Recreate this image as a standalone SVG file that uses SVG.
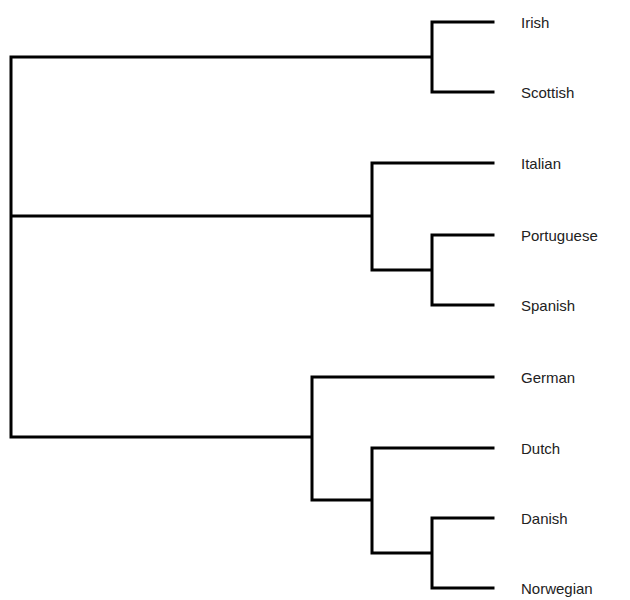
<svg xmlns="http://www.w3.org/2000/svg" width="630" height="600" viewBox="0 0 630 600">
<style>
.c{fill:none;stroke:#000;stroke-width:3;stroke-linecap:square;stroke-linejoin:miter}
.t{font-family:"Liberation Sans",Arial,sans-serif;font-size:15px;fill:#222}
</style>
<rect width="630" height="600" fill="#fff"/>
<g id="connectors">
<path class="c" d="M493,22 H432 V92 H493 M432,57 H11 V437 M11,216 H372 V163 H493 M372,270 V270 H432 V235 H493 M432,270 V305 H493 M372,216 V270 M11,437 H312 V377 H493 M312,437 V500 H372 V448 H493 M372,500 V553 H432 V518 H493 M432,553 V588 H493"/>
</g>
<g id="irish"><text class="t" x="521" y="28">Irish</text></g>
<g id="scottish"><text class="t" x="521" y="98">Scottish</text></g>
<g id="italian"><text class="t" x="521" y="169">Italian</text></g>
<g id="portuguese"><text class="t" x="521" y="241">Portuguese</text></g>
<g id="spanish"><text class="t" x="521" y="311">Spanish</text></g>
<g id="german"><text class="t" x="521" y="383">German</text></g>
<g id="dutch"><text class="t" x="521" y="454">Dutch</text></g>
<g id="danish"><text class="t" x="521" y="524">Danish</text></g>
<g id="norwegian"><text class="t" x="521" y="594">Norwegian</text></g>
</svg>
